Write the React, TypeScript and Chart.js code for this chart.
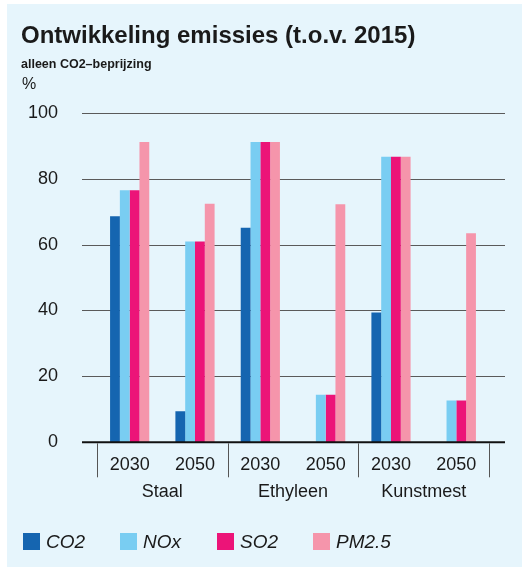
import React, { useEffect, useRef } from "react";
import { Chart, registerables } from "chart.js";

Chart.register(...registerables);

const title = "Ontwikkeling emissies (t.o.v. 2015)";
const subtitle = "alleen CO2\u2013beprijzing";
const unit = "%";
const categories = ["2030", "2050", "2030", "2050", "2030", "2050"];
const groups = ["Staal", "Ethyleen", "Kunstmest"];
const seriesNames = ["CO2", "NOx", "SO2", "PM2.5"];
const co2 = [68.6, 9.4, 65.1, 0, 39.4, 0];
const nox = [76.5, 60.9, 91.1, 14.4, 86.6, 12.7];
const so2 = [76.5, 60.9, 91.1, 14.4, 86.6, 12.7];
const pm25 = [91.1, 72.4, 91.1, 72.2, 86.6, 63.4];
const colors = ["#1565b0", "#79cdf2", "#ec1478", "#f595ab"];
const yMin = 0;
const yMax = 100;
const yStep = 20;

const FONT = "'Liberation Sans', Arial, Helvetica, sans-serif";
const BG = "#e6f5fc";
const TEXT = "#1a1a1a";

const decorPlugin = {
  id: "decor",
  beforeDatasetsDraw(chart: any) {
    const ctx = chart.ctx;
    const y = chart.scales.y;
    const area = chart.chartArea;
    ctx.save();
    ctx.strokeStyle = "#5a5a5a";
    ctx.lineWidth = 1;
    y.ticks.forEach((t: any) => {
      if (t.value === 0) return;
      const py = Math.round(y.getPixelForValue(t.value)) + 0.5;
      ctx.beginPath();
      ctx.moveTo(area.left - 15, py);
      ctx.lineTo(area.right + 16, py);
      ctx.stroke();
    });
    ctx.restore();
  },
  afterDatasetsDraw(chart: any) {
    const ctx = chart.ctx;
    const x = chart.scales.x;
    const y = chart.scales.y;
    const area = chart.chartArea;
    ctx.save();
    // zero line
    const y0 = y.getPixelForValue(0);
    ctx.strokeStyle = "#111";
    ctx.lineWidth = 2;
    ctx.beginPath();
    ctx.moveTo(area.left - 15, y0);
    ctx.lineTo(area.right + 16, y0);
    ctx.stroke();
    // group dividers
    const slot = x.getPixelForValue(1) - x.getPixelForValue(0);
    ctx.strokeStyle = "#555";
    ctx.lineWidth = 1;
    for (let g = 0; g <= groups.length; g++) {
      const px = Math.round(x.getPixelForValue(g * 2) - slot / 2) + 0.5;
      ctx.beginPath();
      ctx.moveTo(px, y0 + 1);
      ctx.lineTo(px, y0 + 35);
      ctx.stroke();
    }
    // group labels
    ctx.fillStyle = TEXT;
    ctx.font = `18px ${FONT}`;
    ctx.textAlign = "center";
    ctx.textBaseline = "alphabetic";
    groups.forEach((g, i) => {
      const cx = (x.getPixelForValue(i * 2) + x.getPixelForValue(i * 2 + 1)) / 2;
      ctx.fillText(g, cx, y0 + 55);
    });
    // titles
    ctx.textAlign = "left";
    ctx.font = `bold 24px ${FONT}`;
    ctx.fillText(title, 14, 39);
    ctx.font = `bold 12.5px ${FONT}`;
    ctx.fillText(subtitle, 14, 64);
    ctx.font = `16px ${FONT}`;
    ctx.fillText(unit, 15, 85);
    // legend
    const lx = [16, 113, 210, 306];
    chart.data.datasets.forEach((ds: any, i: number) => {
      ctx.fillStyle = ds.backgroundColor;
      ctx.fillRect(lx[i], 529, 17, 17);
      ctx.fillStyle = TEXT;
      ctx.font = `italic 19px ${FONT}`;
      ctx.fillText(ds.label, lx[i] + 23, 544);
    });
    ctx.restore();
  },
};

export default function App() {
  const ref = useRef<HTMLCanvasElement | null>(null);
  useEffect(() => {
    if (!ref.current) return;
    const data = [co2, nox, so2, pm25];
    const chart = new Chart(ref.current, {
      type: "bar",
      data: {
        labels: categories,
        datasets: seriesNames.map((n, i) => ({
          label: n,
          data: data[i],
          backgroundColor: colors[i],
          borderWidth: 0,
          categoryPercentage: 0.6,
          barPercentage: 1,
        })),
      },
      options: {
        responsive: false,
        animation: false,
        devicePixelRatio: 1,
        layout: { padding: { top: 108.7, right: 33, bottom: 64.7, left: 0 } },
        scales: {
          x: {
            type: "category",
            offset: true,
            grid: { display: false, drawTicks: false },
            border: { display: false },
            ticks: { font: { family: FONT, size: 18 }, color: TEXT, padding: 12, maxRotation: 0 },
            afterFit: (s: any) => {
              s.height = 60;
            },
          },
          y: {
            min: yMin,
            max: yMax,
            grid: { display: false, drawTicks: false },
            border: { display: false },
            ticks: { stepSize: yStep, font: { family: FONT, size: 18 }, color: TEXT, padding: 39 },
            afterFit: (s: any) => {
              s.width = 90;
            },
          },
        },
        plugins: { legend: { display: false }, tooltip: { enabled: false } },
      },
      plugins: [decorPlugin],
    } as any);
    return () => chart.destroy();
  }, []);
  return (
    <div style={{ position: "fixed", left: 7, top: 4, width: 515, height: 563, background: BG }}>
      <canvas ref={ref} width={515} height={563} style={{ display: "block" }} />
    </div>
  );
}
